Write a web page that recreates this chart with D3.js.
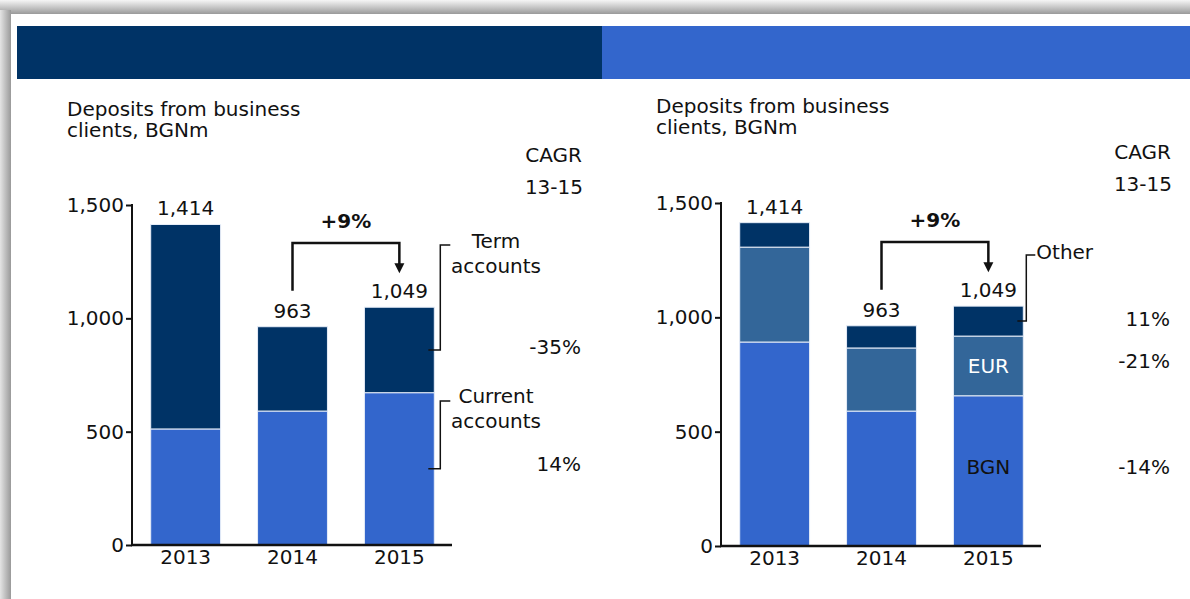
<!DOCTYPE html>
<html>
<head>
<meta charset="utf-8">
<script src="https://cdn.jsdelivr.net/npm/d3@7"></script>
<style>
	body { margin: 0; background: #fff; }
	svg text { font-family: "DejaVu Sans", Verdana, sans-serif; font-size: 20px; fill: #111; }
</style>
</head>
<body>
<div id="chart-area"></div>
<script>
// SVG Size
let width = 1190,
	height = 599;
let fontSize = "20px";

// Data
let years = ["2013", "2014", "2015"];
let yTicks = [0, 500, 1000, 1500];
let totals = [1414, 963, 1049];

// left chart: by account type
let currentAccounts = [512, 591, 672];
let termAccounts = [902, 372, 377];
let cagrLeft = ["-35%", "14%"];

// right chart: by currency
let bgn = [892, 590, 657];
let eur = [415, 276, 261];
let other = [107, 97, 131];
let cagrRight = ["11%", "-21%", "-14%"];

let growthLabel = "+9%";

let colors = {
	dark: "#003366",
	mid: "#336699",
	light: "#3366cc"
};

let svg = d3.select("#chart-area").append("svg")
	.attr("width", width)
	.attr("height", height);

// frame shadow
let defs = svg.append("defs");
let gTop = defs.append("linearGradient").attr("id", "shTop")
	.attr("x1", 0).attr("y1", 0).attr("x2", 0).attr("y2", 1);
gTop.append("stop").attr("offset", "0%").attr("stop-color", "#f6f6f6");
gTop.append("stop").attr("offset", "100%").attr("stop-color", "#9a9a9a");
let gLeft = defs.append("linearGradient").attr("id", "shLeft")
	.attr("x1", 0).attr("y1", 0).attr("x2", 1).attr("y2", 0);
gLeft.append("stop").attr("offset", "0%").attr("stop-color", "#e4e4e4");
gLeft.append("stop").attr("offset", "100%").attr("stop-color", "#999");

svg.append("rect").attr("x", 0).attr("y", 0).attr("width", width).attr("height", 14)
	.attr("fill", "url(#shTop)");
svg.append("rect").attr("x", 0).attr("y", 10).attr("width", 11).attr("height", height)
	.attr("fill", "url(#shLeft)");

// header bar
svg.append("rect").attr("x", 17).attr("y", 26).attr("width", 585).attr("height", 53)
	.attr("fill", colors.dark);
svg.append("rect").attr("x", 602).attr("y", 26).attr("width", width - 602).attr("height", 53)
	.attr("fill", colors.light);

function stackSeries(seriesList) {
	// returns per-series array of [y0, y1]
	let out = [];
	let base = years.map(() => 0);
	seriesList.forEach(s => {
		out.push(s.map((v, i) => {
			let seg = [base[i], base[i] + v];
			base[i] += v;
			return seg;
		}));
	});
	return out;
}

function drawChart(opts) {
	let g = svg.append("g");

	let YScale = d3.scaleLinear()
		.domain([0, 1500])
		.range([opts.y0, opts.y1500]);

	let XScale = d3.scaleBand()
		.domain(years)
		.range([opts.axisX, opts.axisX + 321])
		.paddingInner(0.346)
		.paddingOuter(0.175);

	// title
	let title = g.append("text")
		.attr("x", opts.titleX)
		.attr("y", opts.titleY);
	title.append("tspan").attr("x", opts.titleX).text("Deposits from business");
	title.append("tspan").attr("x", opts.titleX).attr("dy", 21).text("clients, BGNm");

	// CAGR header
	g.append("text").attr("x", opts.cagrX + 1).attr("y", opts.titleY + 46)
		.attr("text-anchor", "end").text("CAGR");
	g.append("text").attr("x", opts.cagrX + 2).attr("y", opts.titleY + 78)
		.attr("text-anchor", "end").text("13-15");

	// bars
	let stacked = stackSeries(opts.series.map(s => s.values));
	opts.series.forEach((s, si) => {
		g.selectAll(".seg-" + si).data(stacked[si])
			.enter()
			.append("rect")
			.attr("class", "seg-" + si)
			.attr("x", (d, i) => XScale(years[i]))
			.attr("width", XScale.bandwidth())
			.attr("y", d => YScale(d[1]))
			.attr("height", d => YScale(d[0]) - YScale(d[1]))
			.attr("fill", s.color)
			.attr("stroke", "#e6edf8")
			.attr("stroke-width", 1);
	});

	// axes
	let yAxis = d3.axisLeft(YScale)
		.tickValues(yTicks)
		.tickSize(6)
		.tickPadding(2)
		.tickFormat(d3.format(","));
	let ya = g.append("g")
		.attr("transform", "translate(" + opts.axisX + ",0)")
		.call(yAxis);
	ya.select(".domain").remove();
	ya.selectAll(".tick line").attr("stroke", "#111").attr("stroke-width", 2);
	ya.selectAll("text").style("font-size", fontSize).attr("fill", "#111");
	g.append("line")
		.attr("x1", opts.axisX).attr("x2", opts.axisX)
		.attr("y1", YScale(1500) - 1).attr("y2", YScale(0))
		.attr("stroke", "#111").attr("stroke-width", 2);

	let xAxis = d3.axisBottom(XScale).tickSize(0).tickPadding(5);
	let xa = g.append("g")
		.attr("transform", "translate(0," + YScale(0) + ")")
		.call(xAxis);
	xa.select(".domain").remove();
	xa.selectAll("text").style("font-size", fontSize).attr("fill", "#111");
	g.append("line")
		.attr("x1", opts.axisX - 1).attr("x2", opts.axisX + 320)
		.attr("y1", YScale(0)).attr("y2", YScale(0))
		.attr("stroke", "#111").attr("stroke-width", 2.5);

	// totals
	g.selectAll(".total").data(totals)
		.enter()
		.append("text")
		.attr("class", "total")
		.attr("x", (d, i) => XScale(years[i]) + XScale.bandwidth() / 2)
		.attr("y", d => YScale(d) - 9)
		.attr("text-anchor", "middle")
		.text(d => d3.format(",")(d));

	// growth bracket 2014 -> 2015
	let cx1 = XScale("2014") + XScale.bandwidth() / 2;
	let cx2 = XScale("2015") + XScale.bandwidth() / 2;
	let top = opts.bracketY;
	g.append("path")
		.attr("d", "M" + cx1 + "," + (YScale(totals[1]) - 36) + "V" + top + "H" + cx2 + "V" + (YScale(totals[2]) - 42))
		.attr("fill", "none")
		.attr("stroke", "#111")
		.attr("stroke-width", 2.5);
	let tipY = YScale(totals[2]) - 34;
	g.append("path")
		.attr("d", "M" + (cx2 - 5) + "," + (tipY - 10) + "L" + (cx2 + 5) + "," + (tipY - 10) + "L" + cx2 + "," + tipY + "Z")
		.attr("fill", "#111");
	g.append("text")
		.attr("x", (cx1 + cx2) / 2)
		.attr("y", top - 15)
		.attr("text-anchor", "middle")
		.style("font-weight", "bold")
		.text(growthLabel);

	// CAGR values
	opts.cagr.forEach(c => {
		g.append("text")
			.attr("x", opts.cagrX)
			.attr("y", c.y)
			.attr("text-anchor", "end")
			.text(c.text);
	});

	return { g: g, XScale: XScale, YScale: YScale, stacked: stacked };
}

// left chart
let left = drawChart({
	axisX: 132, y0: 545, y1500: 205,
	titleX: 67, titleY: 116,
	cagrX: 581,
	bracketY: 243,
	series: [
		{ values: currentAccounts, color: colors.light },
		{ values: termAccounts, color: colors.dark }
	],
	cagr: [{ text: cagrLeft[0], y: 354 }, { text: cagrLeft[1], y: 471 }]
});

function leader(chart, seg, lineTop, textLines) {
	let bx = chart.XScale("2015") + chart.XScale.bandwidth();
	let midY = chart.YScale((seg[0] + seg[1]) / 2);
	chart.g.append("path")
		.attr("d", "M" + (bx - 6) + "," + midY + "H" + (bx + 6) + "V" + lineTop + "H" + (bx + 16))
		.attr("fill", "none")
		.attr("stroke", "#111")
		.attr("stroke-width", 1.5);
	textLines.forEach(t => {
		chart.g.append("text")
			.attr("x", t.x)
			.attr("y", t.y)
			.attr("text-anchor", t.anchor)
			.text(t.text);
	});
}

leader(left, left.stacked[1][2], 245, [
	{ text: "Term", x: 496, y: 248, anchor: "middle" },
	{ text: "accounts", x: 496, y: 273, anchor: "middle" }
]);
leader(left, left.stacked[0][2], 401, [
	{ text: "Current", x: 496, y: 403, anchor: "middle" },
	{ text: "accounts", x: 496, y: 428, anchor: "middle" }
]);

// right chart
let right = drawChart({
	axisX: 721, y0: 546, y1500: 203,
	titleX: 656, titleY: 113,
	cagrX: 1170,
	bracketY: 242,
	series: [
		{ values: bgn, color: colors.light },
		{ values: eur, color: colors.mid },
		{ values: other, color: colors.dark }
	],
	cagr: [
		{ text: cagrRight[0], y: 326 },
		{ text: cagrRight[1], y: 368 },
		{ text: cagrRight[2], y: 474 }
	]
});

let rbx = right.XScale("2015") + right.XScale.bandwidth();
let otherMid = right.YScale((right.stacked[2][2][0] + right.stacked[2][2][1]) / 2);
right.g.append("path")
	.attr("d", "M" + (rbx - 6) + "," + otherMid + "H" + (rbx + 3) + "V" + 255 + "H" + (rbx + 12))
	.attr("fill", "none")
	.attr("stroke", "#111")
	.attr("stroke-width", 1.5);
right.g.append("text").attr("x", rbx + 13).attr("y", 259).text("Other");

let rcx = right.XScale("2015") + right.XScale.bandwidth() / 2;
let eurSeg = right.stacked[1][2];
right.g.append("text")
	.attr("x", rcx)
	.attr("y", right.YScale((eurSeg[0] + eurSeg[1]) / 2) + 7)
	.attr("text-anchor", "middle")
	.style("fill", "#fff")
	.text("EUR");
right.g.append("text")
	.attr("x", rcx)
	.attr("y", 474)
	.attr("text-anchor", "middle")
	.text("BGN");
</script>
</body>
</html>
